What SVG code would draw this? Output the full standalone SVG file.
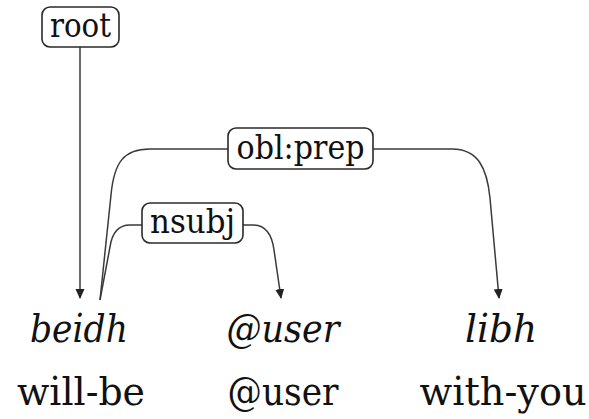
<svg xmlns="http://www.w3.org/2000/svg" width="589" height="419" viewBox="0 0 589 419">
  <style>
    .edge { fill: none; stroke: #3a3a3a; stroke-width: 1.5; }
    .lbox { fill: #fff; stroke: #2a2a2a; stroke-width: 1.6; }
    text { font-family: 'DejaVu Serif', 'Liberation Serif', serif; fill: #111; text-anchor: middle; }
    .ltxt { font-size: 34px; }
    .form { font-size: 39px; font-style: italic; }
    .gloss { font-size: 39px; }
  </style>
  <defs>
    <marker id="arrow" viewBox="0 0 10 10" refX="9" refY="5" markerWidth="10" markerHeight="10" markerUnits="userSpaceOnUse" orient="auto">
      <path d="M0,0.5 L10,5 L0,9.5 Z" fill="#222"/>
    </marker>
  </defs>
  <rect width="589" height="419" fill="#fff"/>

  <!-- dependency arcs -->
  <g id="connectors">
    <path class="edge" d="M80,47 L80,298" marker-end="url(#arrow)"/>
    <path class="edge" d="M100,300 L111,195 C114,162 124,149 150,149 L228,149"/>
    <path class="edge" d="M373,149 L452,149 C478,149 487,168 490,198 L499,298" marker-end="url(#arrow)"/>
    <path class="edge" d="M100,300 L110,247 C112,233 118,225 130,225 L142,225"/>
    <path class="edge" d="M243,225 L253,225 C266,225 272,235 274,250 L281,298" marker-end="url(#arrow)"/>
  </g>

  <!-- relation labels -->
  <g id="label-root">
    <rect class="lbox" x="42" y="7" width="77" height="40" rx="8"/>
    <text class="ltxt" x="80.5" y="37" textLength="61" lengthAdjust="spacingAndGlyphs">root</text>
  </g>
  <g id="label-obl-prep">
    <rect class="lbox" x="228" y="128" width="145" height="41" rx="8"/>
    <text class="ltxt" x="300.5" y="159" textLength="128" lengthAdjust="spacingAndGlyphs">obl:prep</text>
  </g>
  <g id="label-nsubj">
    <rect class="lbox" x="142" y="203" width="101" height="40" rx="8"/>
    <text class="ltxt" x="192.5" y="233" textLength="85" lengthAdjust="spacingAndGlyphs">nsubj</text>
  </g>

  <!-- tokens with glosses -->
  <g id="token-beidh">
    <text class="form" x="79" y="342" textLength="98" lengthAdjust="spacingAndGlyphs">beidh</text>
    <text class="gloss" x="81" y="405" textLength="128" lengthAdjust="spacingAndGlyphs">will-be</text>
  </g>
  <g id="token-user">
    <text class="form" x="283" y="342" textLength="113" lengthAdjust="spacingAndGlyphs">@user</text>
    <text class="gloss" x="283" y="405" textLength="111" lengthAdjust="spacingAndGlyphs">@user</text>
  </g>
  <g id="token-libh">
    <text class="form" x="501" y="342" textLength="72" lengthAdjust="spacingAndGlyphs">libh</text>
    <text class="gloss" x="503" y="405" textLength="167" lengthAdjust="spacingAndGlyphs">with-you</text>
  </g>
</svg>
